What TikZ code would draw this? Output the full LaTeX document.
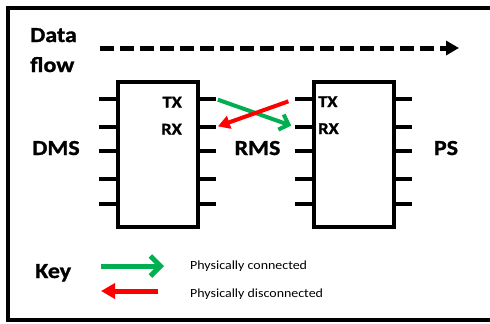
\documentclass[tikz,border=0pt]{standalone}
\usepackage{fontspec}
\setmainfont{Carlito}[FakeStretch=1.12,BoldFeatures={FakeBold=1.2}]
\usetikzlibrary{arrows.meta}

\definecolor{okgreen}{HTML}{00B050}
\definecolor{badred}{HTML}{FF0000}

\begin{document}
\begin{tikzpicture}[x=1bp,y=-1bp,
    chip/.style={draw,line width=4bp,minimum width=80bp,minimum height=145bp,inner sep=0pt},
    pin/.style={line width=4bp},
    big/.style={font=\bfseries\fontsize{21.5}{26}\selectfont,inner sep=0pt},
    port/.style={font=\bfseries\fontsize{16.5}{20}\selectfont,inner sep=0pt},
    keytxt/.style={font=\fontsize{12.5}{14}\selectfont,inner sep=0pt,anchor=base west},
    conn/.style={okgreen,line width=4bp,-{Straight Barb[length=8bp,width=16bp]}},
    disc/.style={badred,line width=4bp,-{Triangle[length=12bp,width=13bp]}}]
    \useasboundingbox (0,0) rectangle (490,323);
    \clip (0,0) rectangle (490,323);
    % outer frame, runs off on the right
    \draw[line width=3.5bp] (8,8) rectangle (530,320);
    % data flow
    \node[big,anchor=base west] (datalbl) at (30,42) {Data};
    \node[big,anchor=base west] (flowlbl) at (30,72) {flow};
    \coordinate (flowA) at (100,48);
    \coordinate (flowB) at (459,48);
    \draw[line width=5bp,dash pattern=on 14bp off 6bp,-{Triangle[length=13bp,width=14bp]}] (flowA) -- (flowB);
    % the two chips
    \node[chip] (leftchip) at (158,154.5) {};
    \node[chip] (rightchip) at (354,154.5) {};
    \foreach \y [count=\i] in {99,127,151,179,204} {
      \draw[pin] (leftchip.west |- 0,\y) -- ++(-17,0) coordinate (leftL\i);
      \draw[pin] (leftchip.east |- 0,\y) -- ++(16,0) coordinate (leftR\i);
      \draw[pin] (rightchip.west |- 0,\y) -- ++(-17,0) coordinate (rightL\i);
      \draw[pin] (rightchip.east |- 0,\y) -- ++(16,0) coordinate (rightR\i);
    }
    % system names
    \node[big,anchor=base] (dmslbl) at (56,155) {DMS};
    \node[big,anchor=base] (rmslbl) at (257.5,155) {RMS};
    \node[big,anchor=base] (pslbl) at (446,155) {PS};
    % ports
    \node[port,anchor=base east] (tx1) at (182,107.5) {TX};
    \node[port,anchor=base east] (rx1) at (182,134.5) {RX};
    \node[port,anchor=base west] (tx2) at (318,107) {TX};
    \node[port,anchor=base west] (rx2) at (318,134) {RX};
    % links
    \draw[conn,shorten <=2bp,shorten >=4bp] (leftR1) -- (rightL2);
    \draw[disc,shorten <=7bp,shorten >=2bp] (rightL1) -- (leftR2);
    % key
    \node[big,anchor=base west] (keylbl) at (35,278) {Key};
    \node[keytxt] (conntxt) at (190,269) {Physically connected};
    \node[keytxt] (disctxt) at (190,297) {Physically disconnected};
    \coordinate (kg1) at (101,266);
    \coordinate (kg2) at (164,266);
    \coordinate (kr1) at (158,291);
    \coordinate (kr2) at (101,291);
    \draw[conn,line width=5bp,-{Straight Barb[length=10bp,width=20bp]}] (kg1) -- (kg2);
    \draw[disc,line width=5bp,-{Triangle[length=14bp,width=15bp]}] (kr1) -- (kr2);
\end{tikzpicture}
\end{document}
